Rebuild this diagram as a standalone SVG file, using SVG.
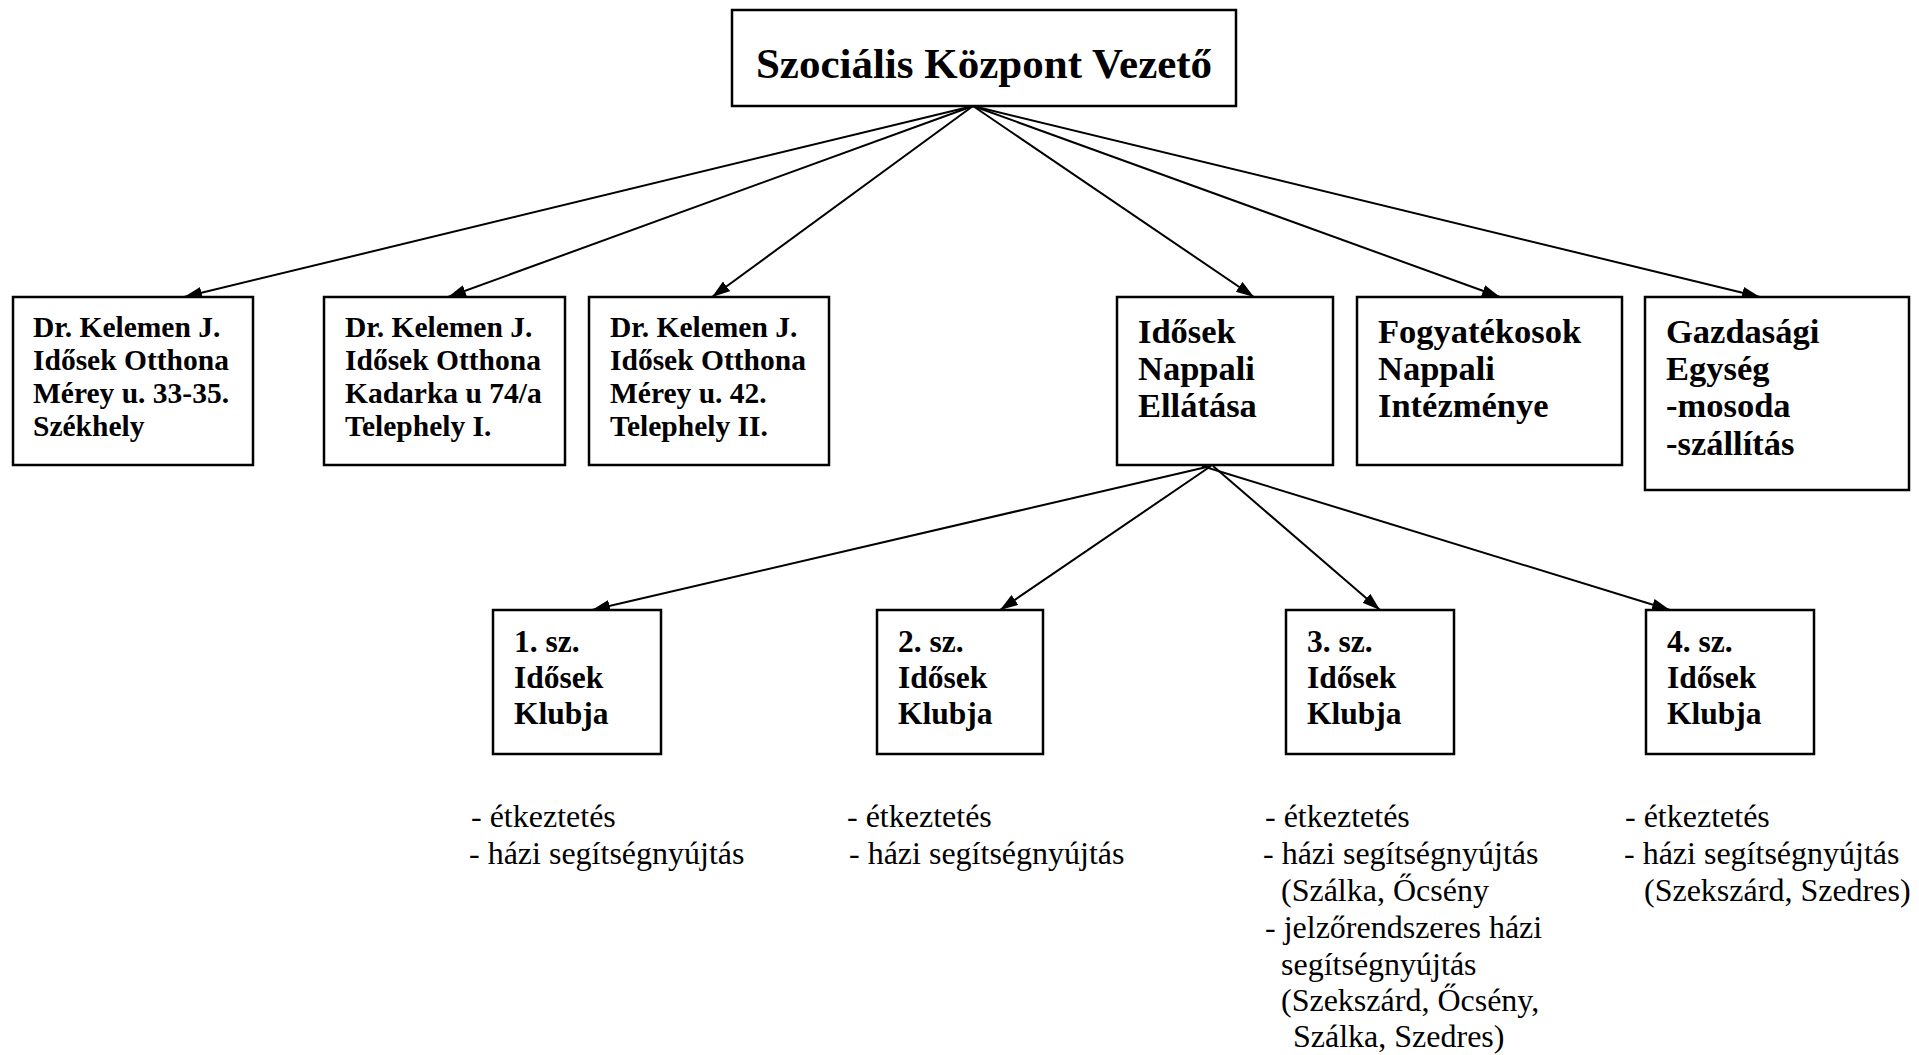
<svg xmlns="http://www.w3.org/2000/svg" width="1919" height="1055" viewBox="0 0 1919 1055">
<defs>
<marker id="arr" markerUnits="userSpaceOnUse" markerWidth="20" markerHeight="14" refX="18" refY="6" orient="auto">
<path d="M0,0 L18,6 L0,12 z" fill="#000"/>
</marker>
<style>
.box{fill:#fff;stroke:#000;stroke-width:2.5}
.con line{stroke:#000;stroke-width:2;marker-end:url(#arr)}
text{font-family:"Liberation Serif","Times New Roman",serif;fill:#000}
.b{font-weight:bold}
.t0{font-size:43px}
.t1{font-size:29.5px}
.t2{font-size:34.5px}
.t3{font-size:31.5px}
.li{font-size:32px}
</style>
</defs>
<rect width="1919" height="1055" fill="#fff"/>
<g id="connectors" class="con">
<line x1="973" y1="106" x2="184" y2="297"/>
<line x1="973" y1="106" x2="448" y2="297"/>
<line x1="973" y1="106" x2="712" y2="297"/>
<line x1="973" y1="106" x2="1254" y2="297"/>
<line x1="973" y1="106" x2="1500" y2="297"/>
<line x1="973" y1="106" x2="1760" y2="297"/>
<line x1="1211" y1="466" x2="592" y2="610"/>
<line x1="1211" y1="466" x2="1000" y2="610"/>
<line x1="1213" y1="466" x2="1380" y2="610"/>
<line x1="1202" y1="466" x2="1670" y2="610"/>
</g>
<g id="n-vezeto">
<rect class="box" x="732" y="10" width="504" height="96"/>
<text class="b t0" x="984" y="78" text-anchor="middle">Szociális Központ Vezető</text>
</g>
<g id="n-szekhely">
<rect class="box" x="13" y="297" width="240" height="168"/>
<text class="b t1"><tspan x="33" y="337">Dr. Kelemen J.</tspan><tspan x="33" y="370">Idősek Otthona</tspan><tspan x="33" y="403">Mérey u. 33-35.</tspan><tspan x="33" y="436">Székhely</tspan></text>
</g>
<g id="n-telephely1">
<rect class="box" x="324" y="297" width="241" height="168"/>
<text class="b t1"><tspan x="345" y="337">Dr. Kelemen J.</tspan><tspan x="345" y="370">Idősek Otthona</tspan><tspan x="345" y="403">Kadarka u 74/a</tspan><tspan x="345" y="436">Telephely I.</tspan></text>
</g>
<g id="n-telephely2">
<rect class="box" x="589" y="297" width="240" height="168"/>
<text class="b t1"><tspan x="610" y="337">Dr. Kelemen J.</tspan><tspan x="610" y="370">Idősek Otthona</tspan><tspan x="610" y="403">Mérey u. 42.</tspan><tspan x="610" y="436">Telephely II.</tspan></text>
</g>
<g id="n-nappali">
<rect class="box" x="1117" y="297" width="216" height="168"/>
<text class="b t2"><tspan x="1138" y="343">Idősek</tspan><tspan x="1138" y="380">Nappali</tspan><tspan x="1138" y="417">Ellátása</tspan></text>
</g>
<g id="n-fogyatekosok">
<rect class="box" x="1357" y="297" width="265" height="168"/>
<text class="b t2"><tspan x="1378" y="343">Fogyatékosok</tspan><tspan x="1378" y="380">Nappali</tspan><tspan x="1378" y="417">Intézménye</tspan></text>
</g>
<g id="n-gazdasagi">
<rect class="box" x="1645" y="297" width="264" height="193"/>
<text class="b t2"><tspan x="1666" y="343">Gazdasági</tspan><tspan x="1666" y="380">Egység</tspan><tspan x="1666" y="417">-mosoda</tspan><tspan x="1666" y="455">-szállítás</tspan></text>
</g>
<g id="n-klub1">
<rect class="box" x="493" y="610" width="168" height="144"/>
<text class="b t3"><tspan x="514" y="652">1. sz.</tspan><tspan x="514" y="688">Idősek</tspan><tspan x="514" y="724">Klubja</tspan></text>
</g>
<g id="n-klub2">
<rect class="box" x="877" y="610" width="166" height="144"/>
<text class="b t3"><tspan x="898" y="652">2. sz.</tspan><tspan x="898" y="688">Idősek</tspan><tspan x="898" y="724">Klubja</tspan></text>
</g>
<g id="n-klub3">
<rect class="box" x="1286" y="610" width="168" height="144"/>
<text class="b t3"><tspan x="1307" y="652">3. sz.</tspan><tspan x="1307" y="688">Idősek</tspan><tspan x="1307" y="724">Klubja</tspan></text>
</g>
<g id="n-klub4">
<rect class="box" x="1646" y="610" width="168" height="144"/>
<text class="b t3"><tspan x="1667" y="652">4. sz.</tspan><tspan x="1667" y="688">Idősek</tspan><tspan x="1667" y="724">Klubja</tspan></text>
</g>
<g id="lists">
<text class="li"><tspan x="471" y="827">- étkeztetés</tspan><tspan x="469" y="864">- házi segítségnyújtás</tspan></text>
<text class="li"><tspan x="847" y="827">- étkeztetés</tspan><tspan x="849" y="864">- házi segítségnyújtás</tspan></text>
<text class="li"><tspan x="1265" y="827">- étkeztetés</tspan><tspan x="1263" y="864">- házi segítségnyújtás</tspan><tspan x="1281" y="901">(Szálka, Őcsény</tspan><tspan x="1265" y="938">- jelzőrendszeres házi</tspan><tspan x="1281" y="975">segítségnyújtás</tspan><tspan x="1281" y="1011">(Szekszárd, Őcsény,</tspan><tspan x="1293" y="1047">Szálka, Szedres)</tspan></text>
<text class="li"><tspan x="1625" y="827">- étkeztetés</tspan><tspan x="1624" y="864">- házi segítségnyújtás</tspan><tspan x="1644" y="901">(Szekszárd, Szedres)</tspan></text>
</g>
</svg>
